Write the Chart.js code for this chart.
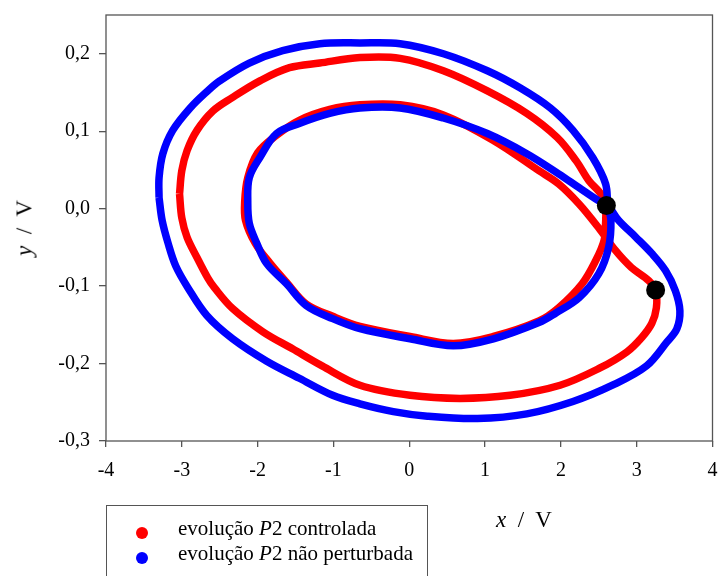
<!DOCTYPE html>
<html>
<head>
<meta charset="utf-8">
<script src="https://cdn.jsdelivr.net/npm/chart.js@4.4.0/dist/chart.umd.min.js"></script>
<style>
  html, body { margin: 0; padding: 0; background: #fff; }
  #wrap { position: relative; width: 722px; height: 576px; overflow: hidden; font-family: "Liberation Serif", "Times New Roman", serif; color: #000; }
  #chart { position: absolute; left: 0; top: 0; }
  .axis-title { position: absolute; font-size: 23px; line-height: 23px; white-space: pre; }
  #xTitle { left: 524px; top: 508px; transform: translateX(-50%); }
  #yTitle { left: 24px; top: 228px; transform: translate(-50%, -50%) rotate(-90deg); }
  #legend { position: absolute; left: 106px; top: 505px; width: 322px; height: 100px; border: 1.3px solid #555; box-sizing: border-box; padding-top: 10px; }
  .item { position: relative; height: 25px; line-height: 25px; font-size: 21px; padding-left: 71px; white-space: nowrap; }
  .dot { position: absolute; left: 29px; top: 11px; width: 12px; height: 12px; border-radius: 50%; }
</style>
</head>
<body>
<div id="wrap">
  <canvas id="chart" width="722" height="576"></canvas>
  <div id="xTitle" class="axis-title"><i>x</i>  /  V</div>
  <div id="yTitle" class="axis-title"><i>y</i>  /  V</div>
  <div id="legend"></div>
</div>
<script>
// axis ticks
const xTicks = [-4, -3, -2, -1, 0, 1, 2, 3, 4];
const yTicks = [-0.3, -0.2, -0.1, 0.0, 0.1, 0.2];

// series names
const seriesNames = ['evolução P2 controlada', 'evolução P2 não perturbada'];

// controlled P2 orbit (red)
const controlledX = [-3.03, -3.00, -2.93, -2.80, -2.59, -2.34, -1.97, -1.58, -1.18, -0.65,
  -0.12, 0.45, 1.03, 1.55, 1.95, 2.20, 2.37, 2.54, 2.59, 2.59,
  2.57, 2.46, 2.28, 1.97, 1.71, 1.11, 0.58, 0.01, -0.65, -1.01,
  -1.36, -1.62, -1.84, -2.03, -2.16, -2.17, -2.13, -2.00, -1.76, -1.45,
  -1.05, -0.65, -0.12, 0.45, 1.11, 1.71, 1.97, 2.24, 2.50, 2.72,
  2.93, 3.16, 3.25, 3.26, 3.20, 3.07, 2.87, 2.51, 1.99, 1.33,
  0.67, 0.01, -0.65, -1.15, -1.54, -1.93, -2.33, -2.57, -2.66, -2.80,
  -2.93, -3.00, -3.03];
const controlledY = [0.019, 0.049, 0.075, 0.101, 0.126, 0.143, 0.165, 0.182, 0.188, 0.195,
  0.194, 0.178, 0.152, 0.123, 0.092, 0.062, 0.036, 0.017, -0.003, -0.018,
  -0.041, -0.067, -0.097, -0.128, -0.145, -0.165, -0.174, -0.165, -0.152, -0.139,
  -0.123, -0.095, -0.070, -0.045, -0.015, 0.010, 0.040, 0.072, 0.094, 0.114,
  0.128, 0.134, 0.134, 0.121, 0.088, 0.049, 0.032, 0.006, -0.025, -0.054,
  -0.076, -0.093, -0.106, -0.128, -0.148, -0.166, -0.185, -0.206, -0.228, -0.241,
  -0.245, -0.241, -0.228, -0.203, -0.181, -0.159, -0.129, -0.102, -0.089, -0.063,
  -0.037, -0.012, 0.019];

// unperturbed P2 orbit (blue)
const freeX = [-3.30, -3.30, -3.25, -3.12, -2.89, -2.66, -2.50, -2.11, -1.67, -1.18,
  -0.65, -0.12, 0.45, 1.03, 1.46, 1.86, 2.16, 2.42, 2.59, 2.62,
  2.66, 2.63, 2.50, 2.24, 1.93, 1.71, 1.11, 0.58, 0.01, -0.65,
  -1.01, -1.36, -1.62, -1.88, -2.01, -2.11, -2.13, -2.11, -1.97,
  -1.75, -1.45, -1.05, -0.65, -0.12, 0.45, 1.03, 1.55, 1.97, 2.24,
  2.50, 2.62, 2.76, 2.99, 3.20, 3.38, 3.51, 3.57, 3.53, 3.40,
  3.13, 2.68, 2.16, 1.55, 0.90, 0.24, -0.21, -0.65, -1.01, -1.45,
  -1.88, -2.33, -2.67, -2.92, -3.08, -3.18, -3.26, -3.30];
const freeY = [0.014, 0.040, 0.071, 0.101, 0.130, 0.152, 0.165, 0.188, 0.204, 0.213,
  0.214, 0.213, 0.200, 0.178, 0.156, 0.130, 0.101, 0.066, 0.032, 0.004,
  -0.015, -0.050, -0.084, -0.115, -0.135, -0.147, -0.168, -0.177, -0.168, -0.155,
  -0.142, -0.125, -0.097, -0.071, -0.045, -0.019, 0.010, 0.040, 0.066,
  0.097, 0.110, 0.123, 0.130, 0.130, 0.117, 0.097, 0.071, 0.045, 0.027,
  0.010, 0.004, -0.015, -0.037, -0.058, -0.080, -0.106, -0.132, -0.155, -0.172,
  -0.203, -0.228, -0.249, -0.265, -0.271, -0.268, -0.262, -0.252, -0.241, -0.219,
  -0.197, -0.168, -0.138, -0.102, -0.074, -0.045, -0.015, 0.014];

// the two P2 points
const markX = [2.60, 3.25];
const markY = [0.004, -0.105];

const toPoints = (xs, ys) => xs.map((x, i) => ({ x: x, y: ys[i] }));
const fmtY = v => (Math.abs(v) < 1e-9 ? 0 : v).toFixed(1).replace('.', ',');

const tickFont = { family: 'Liberation Serif', size: 20 };

const frame = {
  id: 'frame',
  afterDraw(chart) {
    const { ctx, chartArea: a } = chart;
    ctx.save();
    ctx.strokeStyle = '#555';
    ctx.lineWidth = 1.3;
    ctx.strokeRect(a.left, a.top, a.right - a.left, a.bottom - a.top);
    ctx.restore();
  }
};

const chart = new Chart(document.getElementById('chart'), {
  type: 'scatter',
  data: {
    datasets: [
      {
        label: 'P2',
        data: toPoints(markX, markY),
        backgroundColor: '#000',
        borderWidth: 0,
        pointRadius: 9.5,
        order: 0
      },
      {
        label: seriesNames[1],
        data: toPoints(freeX, freeY),
        showLine: true,
        borderColor: '#0000ff',
        backgroundColor: '#0000ff',
        borderWidth: 7.5,
        pointRadius: 0,
        tension: 0.35,
        order: 1
      },
      {
        label: seriesNames[0],
        data: toPoints(controlledX, controlledY),
        showLine: true,
        borderColor: '#ff0000',
        backgroundColor: '#ff0000',
        borderWidth: 7.5,
        pointRadius: 0,
        tension: 0.35,
        order: 2
      }
    ]
  },
  options: {
    responsive: false,
    animation: false,
    devicePixelRatio: 1,
    layout: { padding: { left: 0, top: 15, right: 8, bottom: 0 } },
    plugins: { legend: { display: false }, tooltip: { enabled: false } },
    scales: {
      x: {
        type: 'linear',
        min: -4,
        max: 4,
        afterBuildTicks: axis => { axis.ticks = xTicks.map(v => ({ value: v })); },
        afterFit: scale => {
          scale.height = 135;
          scale.paddingLeft = 0;
          scale.paddingRight = 0;
        },
        ticks: { font: tickFont, color: '#000', padding: 12, maxRotation: 0, callback: v => String(v) },
        grid: { drawOnChartArea: false, tickLength: 6, color: '#555', lineWidth: 1.3 },
        border: { display: false }
      },
      y: {
        type: 'linear',
        min: -0.3,
        max: 0.25,
        afterBuildTicks: axis => { axis.ticks = yTicks.map(v => ({ value: v })); },
        afterFit: scale => {
          scale.width = 106;
          scale.paddingTop = 0;
          scale.paddingBottom = 0;
        },
        ticks: { font: tickFont, color: '#000', padding: 9, callback: fmtY },
        grid: { drawOnChartArea: false, tickLength: 7, color: '#555', lineWidth: 1.3 },
        border: { display: false }
      }
    }
  },
  plugins: [frame]
});

// legend box, built from the series
const legend = document.getElementById('legend');
[
  { name: seriesNames[0], color: '#ff0000' },
  { name: seriesNames[1], color: '#0000ff' }
].forEach(s => {
  const row = document.createElement('div');
  row.className = 'item';
  row.innerHTML = `<span class="dot" style="background:${s.color}"></span>${s.name.replace('P2', '<i>P</i>2')}`;
  legend.appendChild(row);
});
</script>
</body>
</html>
